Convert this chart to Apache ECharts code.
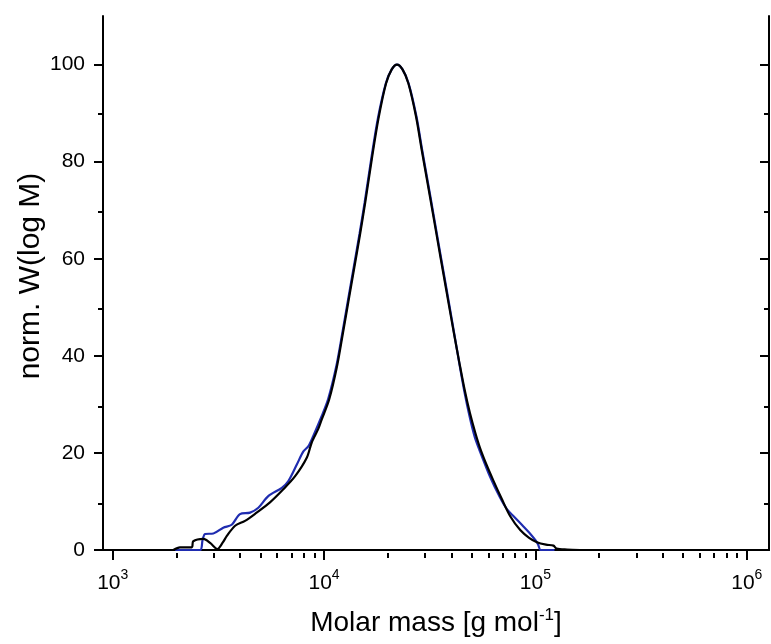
<!DOCTYPE html>
<html><head><meta charset="utf-8">
<script src="https://cdn.jsdelivr.net/npm/echarts@6/dist/echarts.min.js"></script>
<style>html,body{margin:0;padding:0;background:#fff}#c{width:771px;height:644px}</style>
</head><body><div id="c"></div>
<script>
// x values are log10(M / g mol^-1)
const blackLogM = [3.287, 3.318, 3.374, 3.381, 3.429, 3.462, 3.495, 3.520, 3.540, 3.579, 3.626, 3.681, 3.744, 3.807, 3.863, 3.918, 3.942, 3.973, 3.989, 4.024, 4.060, 4.088, 4.115, 4.143, 4.170, 4.194, 4.226, 4.257, 4.293, 4.320, 4.345, 4.371, 4.399, 4.435, 4.462, 4.490, 4.515, 4.540, 4.565, 4.590, 4.615, 4.640, 4.665, 4.690, 4.715, 4.738, 4.770, 4.801, 4.841, 4.880, 4.928, 4.970, 5.007, 5.050, 5.085, 5.100, 5.150, 5.210];
const blackW    = [0.0, 0.55, 0.55, 1.8, 2.3, 1.4, 0.2, 1.5, 2.9, 5.0, 6.0, 7.7, 9.8, 12.5, 15.2, 19.0, 22.2, 25.0, 26.9, 31.0, 37.6, 44.4, 51.2, 58.2, 65.0, 71.4, 80.6, 88.8, 96.1, 99.0, 100.0, 99.0, 96.1, 89.3, 82.4, 75.5, 69.3, 63.0, 56.8, 50.6, 44.5, 38.6, 33.0, 28.2, 24.2, 21.0, 17.4, 14.3, 10.5, 7.0, 4.1, 2.5, 1.6, 1.1, 0.9, 0.3, 0.1, 0.0];
const blueLogM  = [3.295, 3.413, 3.425, 3.437, 3.476, 3.523, 3.563, 3.602, 3.650, 3.689, 3.736, 3.800, 3.831, 3.871, 3.902, 3.926, 3.949, 3.989, 4.020, 4.058, 4.086, 4.113, 4.141, 4.168, 4.192, 4.224, 4.255, 4.292, 4.320, 4.345, 4.371, 4.400, 4.437, 4.464, 4.492, 4.517, 4.542, 4.567, 4.592, 4.616, 4.640, 4.664, 4.688, 4.712, 4.735, 4.787, 4.830, 4.865, 4.900, 4.940, 4.970, 5.000, 5.012, 5.025, 5.090];
const blueW     = [0.0, 0.0, 2.0, 3.3, 3.4, 4.6, 5.2, 7.4, 7.7, 8.7, 11.1, 12.8, 14.2, 17.6, 20.3, 21.4, 23.5, 27.6, 31.2, 37.9, 44.6, 51.4, 58.4, 65.2, 71.6, 80.8, 89.0, 96.1, 99.0, 100.0, 99.0, 96.1, 89.3, 82.4, 75.5, 69.3, 63.0, 56.8, 50.6, 44.5, 38.4, 32.6, 27.6, 23.4, 20.6, 14.9, 11.0, 8.4, 6.8, 5.0, 3.6, 2.0, 1.2, 0.0, 0.0];

const xMajorTicks = [3, 4, 5, 6];          // exponents: 10^3 ... 10^6
const xMinorMultipliers = [2, 3, 4, 5, 6, 7, 8, 9];
const xMinorDecades = [3, 4, 5];
const yMajorTicks = [0, 20, 40, 60, 80, 100];
const yMinorTicks = [10, 30, 50, 70, 90];
const X_MIN = 2.954, X_MAX = 6.105, Y_MIN = 0, Y_MAX = 110;

const xMinorTicks = [];
xMinorDecades.forEach(d => xMinorMultipliers.forEach(k => xMinorTicks.push(d + Math.log10(k))));

const FONT = 'Liberation Sans, Arial, sans-serif';
const gridRect = { left: 103, right: 2, top: 16, height: 537 };
const axLine = { show: true, lineStyle: { color: '#000', width: 2 } };
const noLine = { show: false };

function xAx(grid, pos, ticks, len, inside, line, labels) {
  return {
    type: 'value', gridIndex: grid, position: pos, min: X_MIN, max: X_MAX,
    axisLine: line ? axLine : noLine,
    axisTick: { show: true, inside: inside, length: len, customValues: ticks, lineStyle: { color: '#000', width: 2 } },
    axisLabel: labels ? {
      show: true, customValues: ticks, margin: 18, color: '#000', fontFamily: FONT,
      formatter: v => '{b|10}{s|' + Math.round(v) + '}',
      rich: {
        b: { fontSize: 21, lineHeight: 26, fontFamily: FONT, color: '#000', verticalAlign: 'bottom' },
        s: { fontSize: 14, lineHeight: 14, fontFamily: FONT, color: '#000', verticalAlign: 'top' }
      }
    } : { show: false },
    splitLine: { show: false }
  };
}
function yAx(grid, pos, ticks, len, inside, line, labels) {
  return {
    type: 'value', gridIndex: grid, position: pos, min: Y_MIN, max: Y_MAX,
    axisLine: line ? axLine : noLine,
    axisTick: { show: true, inside: inside, length: len, customValues: ticks, lineStyle: { color: '#000', width: 2 } },
    axisLabel: labels ? { show: true, customValues: ticks, margin: 18, color: '#000', fontSize: 21, fontFamily: FONT } : { show: false },
    splitLine: { show: false }
  };
}

const xAxes = [
  xAx(0, 'bottom', xMajorTicks, 10, false, true, true),
  xAx(0, 'top', xMajorTicks, 10, true, true, false),
  xAx(1, 'bottom', xMinorTicks, 5, false, false, false),
  xAx(1, 'top', xMinorTicks, 5, true, false, false)
];
Object.assign(xAxes[0], {
  name: 'Molar mass [g mol{s|-1}]', nameLocation: 'middle', nameGap: 57,
  nameTextStyle: { fontSize: 28, lineHeight: 32, fontFamily: FONT, color: '#000',
    rich: { s: { fontSize: 17, lineHeight: 17, fontFamily: FONT, color: '#000', verticalAlign: 'top' } } }
});
const yAxes = [
  yAx(0, 'left', yMajorTicks, 9, false, true, true),
  yAx(0, 'right', yMajorTicks, 9, true, true, false),
  yAx(1, 'left', yMinorTicks, 5, false, false, false),
  yAx(1, 'right', yMinorTicks, 5, true, false, false)
];
Object.assign(yAxes[0], {
  name: 'norm. W(log M)', nameLocation: 'middle', nameGap: 57, nameMoveOverlap: false,
  nameTextStyle: { fontSize: 30, fontFamily: FONT, color: '#000', padding: [0, 0, 0, 14] }
});

const chart = echarts.init(document.getElementById('c'), null, { renderer: 'canvas' });
chart.setOption({
  animation: false,
  backgroundColor: '#fff',
  grid: [Object.assign({}, gridRect), Object.assign({}, gridRect)],
  xAxis: xAxes,
  yAxis: yAxes,
  series: [
    { name: 'blue', type: 'line', xAxisIndex: 0, yAxisIndex: 0, showSymbol: false, smooth: 0.3,
      data: blueLogM.map((x, i) => [x, blueW[i]]), lineStyle: { color: '#1f2cb0', width: 2.2 }, z: 3 },
    { name: 'black', type: 'line', xAxisIndex: 0, yAxisIndex: 0, showSymbol: false, smooth: 0.3,
      data: blackLogM.map((x, i) => [x, blackW[i]]), lineStyle: { color: '#000', width: 2.2 }, z: 4 }
  ]
});
</script>
</body></html>
